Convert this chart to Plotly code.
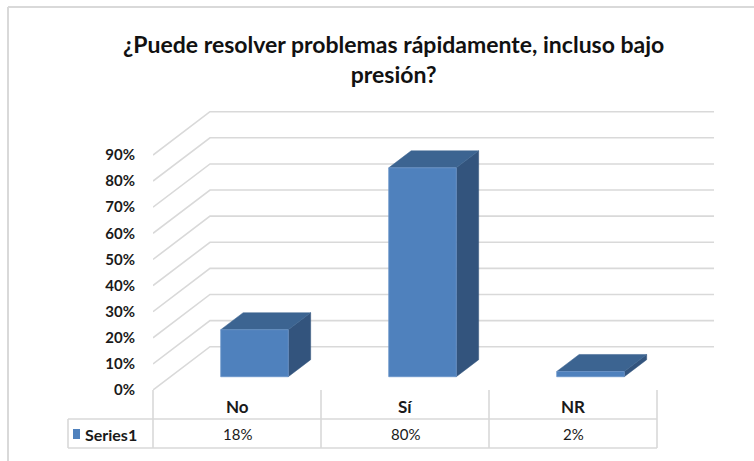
import plotly.graph_objects as go

# data
categories = ["No", "Sí", "NR"]
values = [18, 80, 2]
series_name = "Series1"
tick_values = [0, 10, 20, 30, 40, 50, 60, 70, 80, 90]
tick_labels = [f"{v}%" for v in tick_values]
title_text = "¿Puede resolver problemas rápidamente, incluso bajo<br>presión?"

W, H = 754, 461
FONT = "Lato"
GRID = "#d9d9d9"
FRONT = "#4f81bd"
TOP = "#3c6491"
SIDE = "#33547d"
TXT = "#1a1a1a"

# plot area in pixels (front-left corner at 0%, back-right corner)
L, R, T, B = 153, 715, 111, 390
PX_PER_CAT = 168.0
PX_PER_PCT = 2.611
DX = 57 / PX_PER_CAT          # depth offset, category units
DY = 43.3 / PX_PER_PCT        # depth offset, percent units
F0, F1 = 0.307, 0.70          # bar front / back position in depth
HALF_W = 0.201                # half bar width, category units

x_range = [-0.5, -0.5 + (R - L) / PX_PER_CAT]
y_range = [0, (B - T) / PX_PER_PCT]


def px_x(x):
    return (x - L) / (R - L)


def px_y(y):
    return (B - y) / (B - T)


fig = go.Figure()

# back wall + side wall grid
for v in tick_values:
    fig.add_trace(go.Scatter(
        x=[-0.5, -0.5 + DX, x_range[0] + 3 + DX],
        y=[v, v + DY, v + DY],
        mode="lines", line=dict(color=GRID, width=1.6),
        hoverinfo="skip", showlegend=False, cliponaxis=False))

# 3d bars
for i, v in enumerate(values):
    x0 = i - HALF_W + F0 * DX
    x1 = i + HALF_W + F0 * DX
    y0 = F0 * DY
    y1 = y0 + v
    ox = (F1 - F0) * DX
    oy = (F1 - F0) * DY
    # side
    fig.add_trace(go.Scatter(
        x=[x1, x1 + ox, x1 + ox, x1, x1], y=[y0, y0 + oy, y1 + oy, y1, y0],
        fill="toself", fillcolor=SIDE, mode="lines", line=dict(color=SIDE, width=0.5),
        hoverinfo="skip", showlegend=False, cliponaxis=False))
    # top
    fig.add_trace(go.Scatter(
        x=[x0, x0 + ox, x1 + ox, x1, x0], y=[y1, y1 + oy, y1 + oy, y1, y1],
        fill="toself", fillcolor=TOP, mode="lines", line=dict(color=TOP, width=0.5),
        hoverinfo="skip", showlegend=False, cliponaxis=False))
    # front
    fig.add_trace(go.Scatter(
        x=[x0, x1, x1, x0, x0], y=[y0, y0, y1, y1, y0],
        fill="toself", fillcolor=FRONT, mode="lines", line=dict(color="#6b94c9", width=0.8),
        hoverinfo="skip", showlegend=False, cliponaxis=False))

# data table
shapes = []
row_top, row_mid, row_bot = 390, 419, 448
tbl_left = 68
line = dict(color=GRID, width=1.6)
for xp in [L, L + PX_PER_CAT, L + 2 * PX_PER_CAT, L + 3 * PX_PER_CAT]:
    shapes.append(dict(type="line", xref="paper", yref="paper",
                       x0=px_x(xp), x1=px_x(xp), y0=px_y(row_top), y1=px_y(row_bot), line=line))
for yp in [row_mid, row_bot]:
    shapes.append(dict(type="line", xref="paper", yref="paper",
                       x0=px_x(tbl_left), x1=px_x(L + 3 * PX_PER_CAT), y0=px_y(yp), y1=px_y(yp), line=line))
shapes.append(dict(type="line", xref="paper", yref="paper",
                   x0=px_x(tbl_left), x1=px_x(tbl_left), y0=px_y(row_mid), y1=px_y(row_bot), line=line))
# legend key
shapes.append(dict(type="rect", xref="paper", yref="paper",
                   x0=px_x(73), x1=px_x(80), y0=px_y(429), y1=px_y(439),
                   fillcolor=FRONT, line=dict(width=0)))
# chart border
shapes.append(dict(type="line", xref="paper", yref="paper",
                   x0=px_x(8), x1=px_x(760), y0=px_y(7), y1=px_y(7), line=dict(color=GRID, width=2)))
shapes.append(dict(type="line", xref="paper", yref="paper",
                   x0=px_x(8), x1=px_x(8), y0=px_y(7), y1=px_y(470), line=dict(color=GRID, width=2)))

annotations = []
for i, (c, v) in enumerate(zip(categories, values)):
    annotations.append(dict(x=i, xref="x", y=px_y(406), yref="paper", text=c, showarrow=False,
                            yanchor="middle", xanchor="center",
                            font=dict(family=FONT, size=17, color=TXT, weight="bold")))
    annotations.append(dict(x=i, xref="x", y=px_y(434), yref="paper", text=f"{v}%", showarrow=False,
                            yanchor="middle", xanchor="center",
                            font=dict(family=FONT, size=15, color=TXT)))
annotations.append(dict(x=px_x(83), xref="paper", y=px_y(434), yref="paper", text=series_name,
                        xanchor="left", yanchor="middle", showarrow=False,
                        font=dict(family=FONT, size=16, color=TXT, weight="bold")))
annotations.append(dict(x=px_x(393), xref="paper", y=px_y(59), yref="paper", text=title_text,
                        xanchor="center", yanchor="middle", showarrow=False,
                        font=dict(family=FONT, size=23, color="#111111", weight="bold")))

fig.update_layout(
    width=W, height=H,
    margin=dict(l=L, r=W - R, t=T, b=H - B),
    plot_bgcolor="white", paper_bgcolor="white",
    showlegend=False,
    shapes=shapes,
    annotations=annotations,
    xaxis=dict(range=x_range, visible=False, fixedrange=True),
    yaxis=dict(range=y_range, tickvals=tick_values, ticktext=tick_labels,
               showgrid=False, zeroline=False, showline=False,
               ticks="outside", ticklen=14, tickcolor="rgba(0,0,0,0)",
               tickfont=dict(family=FONT, size=15, color=TXT, weight="bold"),
               fixedrange=True),
)

fig.write_html("out.html", config={"displayModeBar": False},
               post_script="document.body.style.margin='0';")
